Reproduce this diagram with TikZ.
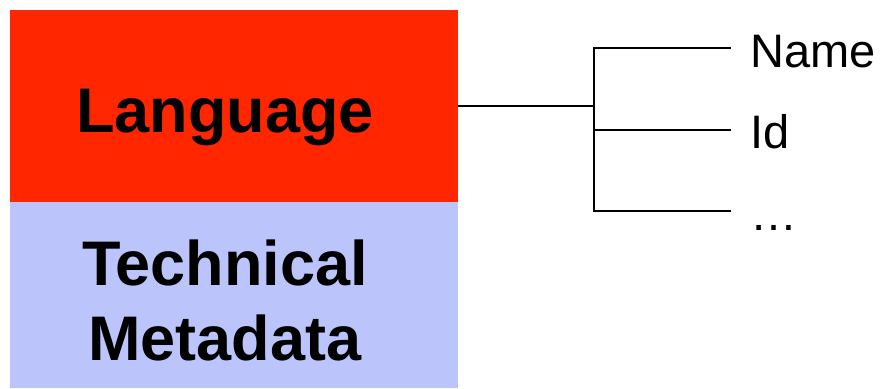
\documentclass[tikz,border=0pt]{standalone}
\usepackage{fontspec}
\setmainfont{Liberation Sans}
\definecolor{langred}{RGB}{255,38,0}
\definecolor{techblue}{RGB}{187,197,252}
\begin{document}
\begin{tikzpicture}[x=1pt,y=-1pt,
  box/.style={draw=none,rectangle,inner sep=0pt,anchor=north west},
  bigtext/.style={font=\fontsize{63}{70}\selectfont\bfseries,inner sep=0pt,anchor=base},
  leaf/.style={font=\fontsize{47}{52}\selectfont,inner sep=0pt,anchor=base west},
  conn/.style={line width=2pt,line cap=rect}]
\useasboundingbox (0,0) rectangle (880,388);
\node[box,fill=langred,minimum width=448pt,minimum height=192pt] (lang) at (10,10) {};
\node[box,fill=techblue,minimum width=448pt,minimum height=186pt] (tech) at (10,202) {};
\node[bigtext] (langt) at (225,132) {Language};
\node[bigtext] (techt) at (225,285) {Technical};
\node[bigtext] (metat) at (225,360) {Metadata};
\coordinate (src) at (458,106);
\coordinate (j) at (594,106);
\coordinate (jt) at (594,48);
\coordinate (jm) at (594,130);
\coordinate (jb) at (594,211);
\coordinate (et) at (730,48);
\coordinate (em) at (730,130);
\coordinate (eb) at (730,211);
\node[leaf] (name) at (750,67) {Name};
\node[leaf] (id) at (750,148) {Id};
\node[leaf] (dots) at (750,230) {…};
\draw[conn,line cap=butt] (src) -- (j);
\draw[conn] (et) -- (jt) -- (jb) -- (eb);
\draw[conn] (jm) -- (em);
\end{tikzpicture}
\end{document}
